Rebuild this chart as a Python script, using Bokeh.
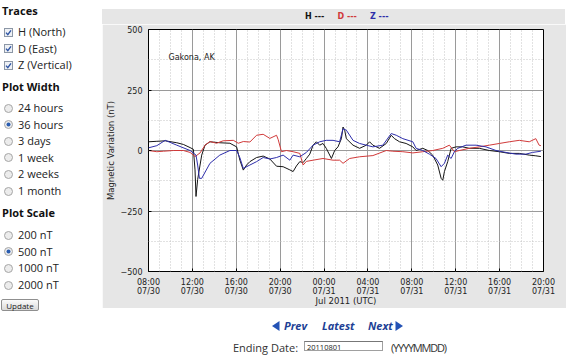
import pandas as pd
from bokeh.plotting import figure
from bokeh.models import Div, Label, FixedTicker, DatetimeTickFormatter, Range1d, Spacer
from bokeh.layouts import row, column
from bokeh.embed import file_html
from bokeh.resources import INLINE

# ---------------- data ----------------
START = pd.Timestamp("2011-07-30 08:00")
END = pd.Timestamp("2011-07-31 20:00")
Y_TICKS = [-500, -250, 0, 250, 500]
Y_MINOR = [-375, -125, 125, 375]
X_TICK_HOURS = [0, 4, 8, 12, 16, 20, 24, 28, 32, 36]

H_t = [0, 0.76, 1.52, 2.58, 3.18, 3.79, 4.09, 4.24, 4.33, 4.48, 4.85, 5.15, 5.6, 6.5, 7.42, 8.03, 8.33, 8.64, 8.94, 9.24, 9.85, 10.45, 11.06, 11.67, 12.27, 12.88, 13.18, 13.48, 13.79, 14.09, 14.39, 14.7, 15.0, 15.3, 15.6, 15.9, 16.2, 16.67, 16.97, 17.27, 17.58, 17.73, 17.88, 18.03, 18.64, 19.24, 19.85, 20.15, 20.45, 21.06, 21.67, 22.12, 22.42, 22.88, 23.48, 24.09, 24.39, 25.0, 25.45, 25.9, 26.36, 26.67, 26.82, 26.97, 27.27, 27.58, 28.03, 28.64, 29.24, 30.15, 31.06, 31.97, 32.88, 33.79, 34.7, 35.3, 35.76]
H_v = [36, 38, 40, 32, 25, 12, 5, -80, -190, -120, -19, 22, 36, 32, 30, 15, -40, -81, -60, -46, -29, -23, -35, -65, -67, -80, -87, -64, -46, -50, -33, -15, 22, 36, 22, 29, 9, -33, 0, 15, 49, 97, 84, 49, 22, 9, 22, 36, 22, 9, 29, 63, 49, 36, 29, 15, 0, 9, 0, -19, -60, -115, -123, -87, -46, 9, 15, 15, 9, 9, 0, -5, -12, -12, -19, -22, -25]
D_t = [0, 0.76, 1.36, 2.27, 3.18, 3.79, 4.24, 4.7, 5.15, 5.6, 6.2, 6.8, 7.73, 8.18, 8.64, 9.24, 9.85, 10.45, 11.06, 11.67, 11.82, 12.12, 12.57, 13.18, 13.79, 14.09, 14.39, 15.0, 15.9, 16.82, 17.42, 17.73, 18.33, 19.24, 20.45, 21.67, 22.27, 23.18, 24.09, 25.0, 25.9, 26.82, 27.42, 27.88, 28.33, 29.24, 30.15, 31.06, 31.97, 32.88, 33.79, 34.7, 35.3, 35.6, 35.76]
D_v = [0, -5, -3, 0, 0, -8, -25, -10, 22, 37, 30, 40, 42, 30, 37, 35, 63, 67, 50, 63, 45, -5, 0, -5, -12, -60, -45, -40, -33, -40, -40, -53, -33, -26, -21, 0, -3, -5, -10, -5, 0, 9, 22, -5, 0, 9, 15, 22, 29, 36, 42, 36, 49, 22, 20]
Z_t = [0, 0.76, 1.52, 2.58, 3.79, 4.33, 4.48, 4.64, 4.85, 5.6, 6.5, 7.42, 8.03, 8.33, 8.64, 9.24, 9.85, 10.45, 11.06, 11.67, 12.27, 12.88, 13.18, 13.79, 14.39, 15.0, 15.6, 16.2, 16.82, 17.42, 17.73, 18.03, 18.64, 19.24, 19.85, 20.45, 21.36, 22.12, 22.58, 23.18, 24.09, 24.39, 25.0, 25.6, 26.2, 26.67, 26.97, 27.27, 27.58, 27.88, 28.18, 28.94, 29.85, 30.76, 31.67, 32.58, 33.48, 34.39, 35.0, 35.76]
Z_v = [11, 20, 42, 22, 0, -19, -60, -115, -115, -53, -19, 0, 0, -30, -74, -60, -46, -29, -35, -29, -19, -40, -19, -26, -8, 22, 36, 42, 42, 36, 90, 84, 42, 29, 22, 15, 22, 70, 63, 49, 36, 9, 0, -15, -33, -67, -53, -19, -33, -5, 9, 22, 22, 15, 0, -8, -15, -15, -8, -3]

TRACE_NAMES = ["H ---", "D ---", "Z ---"]
TRACE_COLORS = ["#151515", "#d03a3a", "#2e2eaa"]
STATION = "Gakona, AK"
X_TITLE = "Jul 2011 (UTC)"
Y_TITLE = "Magnetic Variation (nT)"

TRACE_LABELS = ["H (North)", "D (East)", "Z (Vertical)"]
WIDTH_OPTIONS = ["24 hours", "36 hours", "3 days", "1 week", "2 weeks", "1 month"]
WIDTH_SELECTED = 1
SCALE_OPTIONS = ["200 nT", "500 nT", "1000 nT", "2000 nT"]
SCALE_SELECTED = 1
END_DATE = "20110801"

PANEL = "#e6e6e6"


def to_dt(hours):
    return [START + pd.Timedelta(hours=h) for h in hours]


def to_ms(hours):
    return [(START + pd.Timedelta(hours=h)).value // 10**6 for h in hours]


# ---------------- legend strip (top of the grey panel) ----------------
leg_html = "".join(
    '<span style="position:absolute;left:%.1fpx;top:3px;line-height:10px;font-size:8px;font-weight:bold;'
    'font-family:\'DejaVu Sans\',sans-serif;color:%s;white-space:nowrap">%s</span>' % (203 + 32.5 * i, c, name)
    for i, (name, c) in enumerate(zip(TRACE_NAMES, TRACE_COLORS)))
leg = Div(text='<div style="position:relative;width:463px;height:15px">%s</div>' % leg_html,
          width=463, height=15, margin=0, styles={"background-color": PANEL})

# ---------------- chart ----------------
FRAME_W, FRAME_H = 395, 242
p = figure(frame_width=FRAME_W, frame_height=FRAME_H, x_axis_type="datetime",
           output_backend="svg", toolbar_location=None,
           x_range=Range1d(START, END), y_range=Range1d(Y_TICKS[0], Y_TICKS[-1]),
           min_border_left=45, min_border_right=23, min_border_top=5, min_border_bottom=34,
           background_fill_color="white", border_fill_color=PANEL,
           outline_line_color="black", outline_line_width=1)

p.xaxis.ticker = FixedTicker(ticks=to_ms(X_TICK_HOURS),
                             minor_ticks=to_ms(range(X_TICK_HOURS[0], X_TICK_HOURS[-1] + 1)))
p.yaxis.ticker = FixedTicker(ticks=Y_TICKS, minor_ticks=Y_MINOR)
fmt = "%H:%M\n%m/%d"
p.xaxis.formatter = DatetimeTickFormatter(microseconds=fmt, milliseconds=fmt, seconds=fmt, minsec=fmt,
                                          minutes=fmt, hourmin=fmt, hours=fmt, days=fmt,
                                          months=fmt, years=fmt)
p.yaxis.major_label_overrides = {v: ("\u2212%d" % -v if v < 0 else "%d" % v) for v in Y_TICKS}

p.xaxis.axis_label = X_TITLE
p.yaxis.axis_label = Y_TITLE
for ax in (p.xaxis, p.yaxis):
    ax.axis_line_color = None
    ax.major_tick_in = 3
    ax.major_tick_out = 0
    ax.major_tick_line_color = "black"
    ax.minor_tick_line_color = None
    ax.major_label_text_font = "DejaVu Sans"
    ax.major_label_text_font_size = "8px"
    ax.major_label_text_color = "#222222"
    ax.major_label_text_line_height = 1.0
    ax.axis_label_text_font = "DejaVu Sans"
    ax.axis_label_text_font_size = "8.5px"
    ax.axis_label_text_font_style = "normal"
    ax.axis_label_text_color = "#222222"
p.xaxis.major_label_standoff = 2
p.xaxis.axis_label_standoff = -3
p.yaxis.major_label_standoff = 2
p.yaxis.axis_label_standoff = 2

for g in (p.xgrid, p.ygrid):
    g.grid_line_color = "#9a9a9a"
    g.grid_line_width = 1
    g.minor_grid_line_color = "#c4c4c4"
    g.minor_grid_line_dash = "1 2"

for t, v, c in zip((H_t, D_t, Z_t), (H_v, D_v, Z_v), TRACE_COLORS):
    p.line(to_dt(t), v, line_color=c, line_width=1)

p.add_layout(Label(x=20, y=385, x_units="screen", y_units="data", text=STATION,
                   text_color="#222222", text_font="DejaVu Sans", text_font_size="8px",
                   text_baseline="middle"))

# ---------------- side panel ----------------
FONT = "font-family:'Open Sans',sans-serif;"
DY = 3


def text_at(txt, left, center, size=11, bold=False, color="#222"):
    w = "bold" if bold else "normal"
    return ('<span style="position:absolute;left:%dpx;top:%.1fpx;line-height:14px;font-size:%dpx;'
            'font-weight:%s;color:%s;white-space:nowrap;%s">%s</span>'
            % (left, center - 8 - 7 + DY, size, w, color, FONT, txt))


def checkbox_at(center):
    return ('<svg width="9" height="9" style="position:absolute;left:-1px;top:%.1fpx">'
            '<rect x="0.5" y="0.5" width="8" height="8" fill="#eef1f5" stroke="#8c97a6"/>'
            '<path d="M2,4.6 L3.8,6.6 L7,2.3" fill="none" stroke="#2f55a4" stroke-width="1.4"/></svg>'
            % (center - 8 - 4.5 + DY))


def radio_at(center, selected):
    dot = '<circle cx="4.5" cy="4.5" r="2" fill="#2a5db0"/>' if selected else ''
    return ('<svg width="9" height="9" style="position:absolute;left:-1px;top:%.1fpx">'
            '<circle cx="4.5" cy="4.5" r="4" fill="#ececec" stroke="#a6a6a6"/>%s</svg>'
            % (center - 8 - 4.5 + DY, dot))


parts = [text_at("Traces", -3, 11, bold=True, color="#111")]
for i, lab in enumerate(TRACE_LABELS):
    c = 32 + 16.5 * i
    parts += [checkbox_at(c), text_at(lab, 13, c)]
parts.append(text_at("Plot Width", -3, 87, bold=True, color="#111"))
for i, lab in enumerate(WIDTH_OPTIONS):
    c = 108 + 16.6 * i
    parts += [radio_at(c, i == WIDTH_SELECTED), text_at(lab, 13, c)]
parts.append(text_at("Plot Scale", -3, 213, bold=True, color="#111"))
for i, lab in enumerate(SCALE_OPTIONS):
    c = 235 + 16.7 * i
    parts += [radio_at(c, i == SCALE_SELECTED), text_at(lab, 13, c)]
parts.append('<div style="position:absolute;left:-4px;top:%dpx;width:38px;height:12px;'
             'border:1px solid #8f8f8f;border-radius:2px;background:linear-gradient(#fbfbfb,#dadada);'
             'font-size:8px;line-height:12px;text-align:center;color:#222;%s">Update</div>' % (291 + DY, FONT))

side = Div(text='<div style="position:relative;width:92px;height:342px">%s</div>' % "".join(parts),
           width=92, height=342)

# ---------------- navigation ----------------
NAV = "#1d3f95"
nav_parts = [
    '<svg width="8" height="10" style="position:absolute;left:165px;top:8px">'
    '<polygon points="7.5,0 7.5,10 0,5" fill="#2352b5"/></svg>',
    '<span style="position:absolute;left:177px;top:6px;line-height:14px;font-size:11px;font-weight:bold;'
    'font-style:italic;color:%s;%s">Prev</span>' % (NAV, FONT),
    '<span style="position:absolute;left:215px;top:6px;line-height:14px;font-size:11px;font-weight:bold;'
    'font-style:italic;color:%s;%s">Latest</span>' % (NAV, FONT),
    '<span style="position:absolute;left:261px;top:6px;line-height:14px;font-size:11px;font-weight:bold;'
    'font-style:italic;color:%s;%s">Next</span>' % (NAV, FONT),
    '<svg width="8" height="10" style="position:absolute;left:288px;top:8px">'
    '<polygon points="0.5,0 0.5,10 8,5" fill="#2352b5"/></svg>',
    '<span style="position:absolute;left:126px;top:29px;line-height:11px;font-size:11px;color:#333;'
    'white-space:nowrap;%s">Ending Date:</span>' % FONT,
    '<div style="position:absolute;left:197px;top:28px;width:79px;height:10px;border:1px solid #a0a0a0;'
    'border-top-color:#777;background:white;font-size:7.5px;line-height:10px;padding-left:2px;'
    'color:#222;%s">%s</div>' % (FONT, END_DATE),
    '<span style="position:absolute;left:284px;top:29px;line-height:11px;font-size:11px;color:#333;'
    'letter-spacing:-1.2px;white-space:nowrap;%s">(YYYYMMDD)</span>' % FONT,
]
nav = Div(text='<div style="position:relative;width:463px;height:42px">%s</div>' % "".join(nav_parts),
          width=463, height=42)

layout = row(side, column(Spacer(width=463, height=9), leg, p, nav))

open("out.html", "w").write(file_html(layout, INLINE))
